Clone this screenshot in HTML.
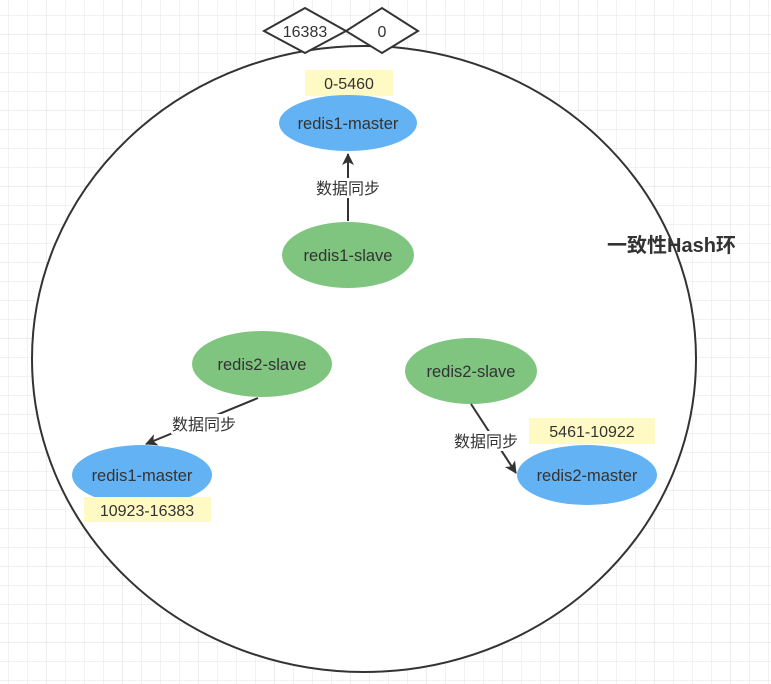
<!DOCTYPE html>
<html><head><meta charset="utf-8"><style>
html,body{margin:0;padding:0;background:#fff;}
svg{display:block;}
text{font-family:"Liberation Sans","Noto Sans CJK SC",sans-serif;}
</style></head><body>
<svg width="771" height="684" viewBox="0 0 771 684" xmlns="http://www.w3.org/2000/svg">
<defs>
<pattern id="g" x="8" y="15" width="19" height="19" patternUnits="userSpaceOnUse">
<path d="M0 0H19M0 0V19" stroke="#e6e6e6" stroke-width="1" fill="none"/>
</pattern>
<pattern id="g2" x="46" y="34" width="76" height="76" patternUnits="userSpaceOnUse">
<path d="M0 0H76M0 0V76" stroke="#dcdcdc" stroke-width="1" fill="none"/>
</pattern>
<marker id="a" markerWidth="14" markerHeight="12" refX="11" refY="6" orient="auto" markerUnits="userSpaceOnUse">
<path d="M0,0 L12,6 L0,12 L3,6 z" fill="#333"/>
</marker>
</defs>
<rect width="771" height="684" fill="#fff"/>
<rect width="771" height="684" fill="url(#g)"/>
<rect width="771" height="684" fill="url(#g2)"/>
<ellipse cx="364" cy="359" rx="332" ry="313" fill="#fff" stroke="#333" stroke-width="2"/>
<polygon points="264,31 305,8 346,31 305,53" fill="#fff" stroke="#333" stroke-width="2"/>
<text x="305" y="37" font-size="16" text-anchor="middle" fill="#333">16383</text>
<polygon points="346,31 382,8 418,31 382,53" fill="#fff" stroke="#333" stroke-width="2"/>
<text x="382" y="37" font-size="16" text-anchor="middle" fill="#333">0</text>

<rect x="305" y="70" width="88" height="26" fill="#fff9c4"/>
<text x="349" y="89" font-size="16" text-anchor="middle" fill="#333">0-5460</text>
<ellipse cx="348" cy="123" rx="69" ry="28" fill="#63b3f4"/>
<text x="348" y="129" font-size="16.5" text-anchor="middle" fill="#333">redis1-master</text>

<line x1="348" y1="221" x2="348" y2="154" stroke="#333" stroke-width="2" marker-end="url(#a)"/>
<rect x="315" y="178" width="66" height="20" fill="#fff"/>
<text x="348" y="194" font-size="16" text-anchor="middle" fill="#333">数据同步</text>
<ellipse cx="348" cy="255" rx="66" ry="33" fill="#7fc57f"/>
<text x="348" y="261" font-size="16.5" text-anchor="middle" fill="#333">redis1-slave</text>

<text x="607" y="252" font-size="20" font-weight="bold" fill="#333">一致性Hash环</text>

<ellipse cx="262" cy="364" rx="70" ry="33" fill="#7fc57f"/>
<text x="262" y="370" font-size="16.5" text-anchor="middle" fill="#333">redis2-slave</text>
<line x1="258" y1="398" x2="146" y2="444" stroke="#333" stroke-width="2" marker-end="url(#a)"/>
<rect x="171" y="414" width="66" height="20" fill="#fff"/>
<text x="204" y="430" font-size="16" text-anchor="middle" fill="#333">数据同步</text>
<ellipse cx="142" cy="475" rx="70" ry="30" fill="#63b3f4"/>
<text x="142" y="481" font-size="16.5" text-anchor="middle" fill="#333">redis1-master</text>
<rect x="84" y="497" width="127" height="25" fill="#fff9c4"/>
<text x="147" y="516" font-size="16" text-anchor="middle" fill="#333">10923-16383</text>

<ellipse cx="471" cy="371" rx="66" ry="33" fill="#7fc57f"/>
<text x="471" y="377" font-size="16.5" text-anchor="middle" fill="#333">redis2-slave</text>
<line x1="471" y1="404" x2="516" y2="473" stroke="#333" stroke-width="2" marker-end="url(#a)"/>
<rect x="453" y="431" width="66" height="20" fill="#fff"/>
<text x="486" y="447" font-size="16" text-anchor="middle" fill="#333">数据同步</text>
<rect x="529" y="418" width="126" height="26" fill="#fff9c4"/>
<text x="592" y="437" font-size="16" text-anchor="middle" fill="#333">5461-10922</text>
<ellipse cx="587" cy="475" rx="70" ry="30" fill="#63b3f4"/>
<text x="587" y="481" font-size="16.5" text-anchor="middle" fill="#333">redis2-master</text>
</svg>
</body></html>
